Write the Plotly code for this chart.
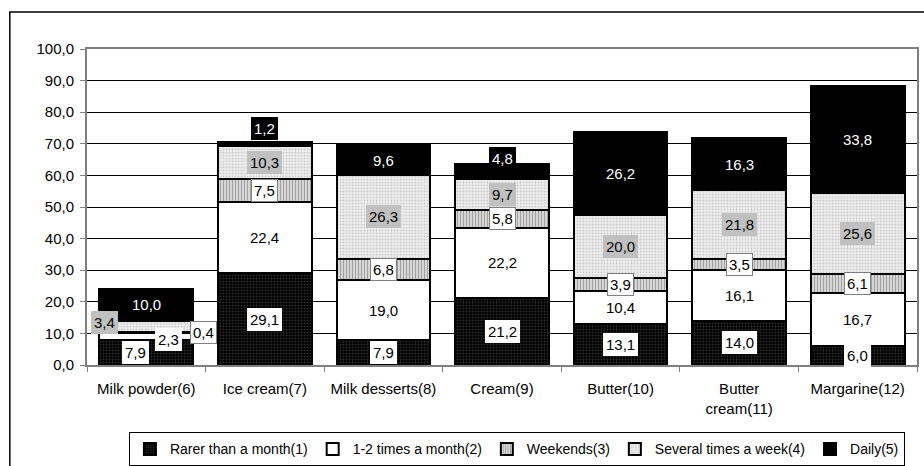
import plotly.graph_objects as go

categories = ["Milk powder(6)", "Ice cream(7)", "Milk desserts(8)", "Cream(9)",
              "Butter(10)", "Butter<br>cream(11)", "Margarine(12)"]
series_names = ["Rarer than a month(1)", "1-2 times a month(2)", "Weekends(3)",
                "Several times a week(4)", "Daily(5)"]
rarer = [7.9, 29.1, 7.9, 21.2, 13.1, 14.0, 6.0]
one_two = [2.3, 22.4, 19.0, 22.2, 10.4, 16.1, 16.7]
weekends = [0.4, 7.5, 6.8, 5.8, 3.9, 3.5, 6.1]
several = [3.4, 10.3, 26.3, 9.7, 20.0, 21.8, 25.6]
daily = [10.0, 1.2, 9.6, 4.8, 26.2, 16.3, 33.8]
y_ticks = [0, 10, 20, 30, 40, 50, 60, 70, 80, 90, 100]

series = [rarer, one_two, weekends, several, daily]

FONT = "Liberation Sans, Arial, sans-serif"

styles = [
    dict(color="black", pattern=dict(shape=".", fgcolor="#5a5a5a", bgcolor="black", size=3, solidity=0.3)),
    dict(color="white"),
    dict(color="white", pattern=dict(shape="|", fgcolor="#505050", bgcolor="#f0f0f0", size=3, solidity=0.55)),
    dict(color="#e6e6e6", pattern=dict(shape=".", fgcolor="#a8a8a8", bgcolor="#eeeeee", size=3, solidity=0.3)),
    dict(color="black"),
]
label_bg = ["white", "white", "white", "#c0c0c0", "black"]
label_fg = ["black", "black", "black", "black", "white"]
label_border = [None, None, "#808080", None, None]
# label pixel offsets (style only)
shifts = {(0, 0): (-11, 0), (0, 1): (22, -3), (0, 2): (57, 0), (0, 3): (-42, 4),
          (1, 4): (0, 16), (3, 4): (0, 13)}

fig = go.Figure()
for s, (name, vals) in enumerate(zip(series_names, series)):
    st = styles[s]
    marker = dict(color=st["color"], line=dict(color="black", width=2))
    if "pattern" in st:
        marker["pattern"] = st["pattern"]
    fig.add_trace(go.Bar(name=name, x=categories, y=vals, marker=marker, hoverinfo="skip"))

annotations = []
for i, cat in enumerate(categories):
    base = 0.0
    for s, vals in enumerate(series):
        v = vals[i]
        mid = base + v / 2
        base += v
        dx, dy = shifts.get((i, s), (0, 0))
        annotations.append(dict(
            x=cat, y=mid, text=f"{v:.1f}".replace(".", ","), showarrow=False,
            xref="x", yref="y", xshift=dx, yshift=dy,
            font=dict(family=FONT, size=15, color=label_fg[s]),
            bgcolor=label_bg[s], bordercolor=label_border[s] or label_bg[s],
            borderwidth=1, borderpad=2))

fig.update_layout(
    barmode="stack",
    bargap=0.21,
    width=924, height=466,
    margin=dict(l=87, r=7, t=49, b=101, autoexpand=False),
    paper_bgcolor="white", plot_bgcolor="white",
    separators=", ",
    font=dict(family=FONT, size=15, color="black"),
    annotations=annotations,
    showlegend=True,
    legend=dict(orientation="h", x=0.518, xanchor="center", y=-0.213, yanchor="top",
                bordercolor="black", borderwidth=1, bgcolor="white",
                font=dict(family=FONT, size=14), itemwidth=30, tracegroupgap=0,
                traceorder="normal"),
    shapes=[dict(type="rect", xref="paper", yref="paper", x0=-0.093, x1=1.1,
                 y0=-0.40, y1=1.117, line=dict(color="black", width=1.5), layer="below")],
)
fig.update_xaxes(type="category", showline=True, linecolor="#808080", linewidth=2, mirror=True,
                 ticks="outside", tickson="boundaries", ticklen=5, tickcolor="#808080",
                 showgrid=False, tickfont=dict(family=FONT, size=15), ticklabelstandoff=9)
fig.update_yaxes(range=[0, 100], tickvals=y_ticks, tickformat=".1f", showline=True,
                 linecolor="#808080", linewidth=2, mirror=True, ticks="outside", ticklen=5,
                 tickcolor="#808080", showgrid=True, gridcolor="black", gridwidth=1,
                 zeroline=False, tickfont=dict(family=FONT, size=15), ticklabelstandoff=3)
fig.write_html("out.html", config={"displayModeBar": False},
               post_script="document.body.style.margin='0';document.body.style.overflow='hidden';")
